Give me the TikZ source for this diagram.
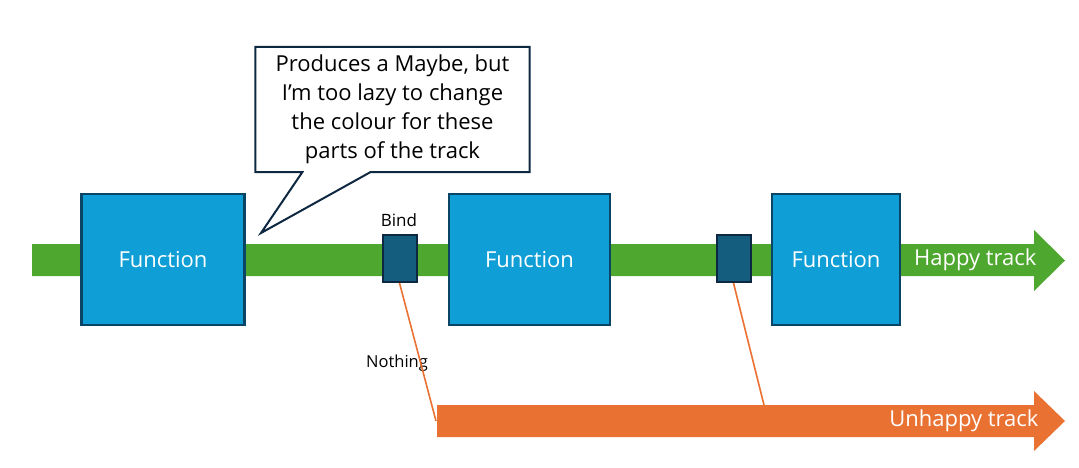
\documentclass[tikz,border=0pt]{standalone}
\usepackage{fontspec}
\setmainfont{Open Sans}
\usetikzlibrary{calc}

\definecolor{happy}{HTML}{4EA72E}
\definecolor{unhappy}{HTML}{E97132}
\definecolor{fnblue}{HTML}{109ED6}
\definecolor{fnedge}{HTML}{0B4566}
\definecolor{bindfill}{HTML}{155D7E}
\definecolor{navy}{HTML}{0E2841}

\begin{document}
\begin{tikzpicture}[x=1pt,y=-1pt]

        \useasboundingbox (0,0) rectangle (1079,467);

        % the two tracks
        \fill[happy] (32,244) -- (1034,244) -- (1034,230) -- (1065,260.5)
          -- (1034,291) -- (1034,276) -- (32,276) -- cycle;
        \fill[unhappy] (437,405) -- (1034,405) -- (1034,391) -- (1065,421)
          -- (1034,451) -- (1034,437) -- (437,437) -- cycle;

        \begin{scope}[every node/.style={rectangle, draw=fnedge, line width=2.2pt,
            fill=fnblue, text=white, font=\fontsize{22}{26}\selectfont,
            minimum height=131}]
          \node[minimum width=163] (f1) at (163,259.5) {Function};
          \node[minimum width=161] (f2) at (529.5,259.5) {Function};
          \node[minimum width=128] (f3) at (836,259.5) {Function};
        \end{scope}

        \begin{scope}[every node/.style={rectangle, draw=navy, line width=2pt,
            fill=bindfill, minimum width=34, minimum height=47}]
          \node (b1) at (399.5,258.5) {};
          \node (b2) at (733.5,258.5) {};
        \end{scope}

        \begin{scope}[every node/.style={font=\fontsize{17}{20}\selectfont}]
          \node (t1) at (399,220) {Bind};
          \node[font=\fontsize{16.5}{20}\selectfont] (t2) at (397,363) {Nothing};
        \end{scope}

        \begin{scope}[every node/.style={text=white, font=\fontsize{22}{26}\selectfont}]
          \node[anchor=east] (t3) at (1040,260) {Happy track};
          \node[anchor=east] (t4) at (1042,421) {Unhappy track};
        \end{scope}

        \coordinate (o1) at (436,421);
        \coordinate (o2) at (764,405);
        \begin{scope}[every edge/.style={draw=unhappy, line width=1.6pt}]
          \path (b1.south) edge (o1);
          \path (b2.south) edge (o2);
        \end{scope}

        % callout
        \node[minimum width=274, minimum height=125] (note) at (392.5,109.5) {};
        \coordinate (tip) at (261,233);
        \draw[navy, line width=2pt, fill=white, line join=miter]
          (note.north west) -- (note.north east) -- (note.south east)
          -- ($(note.south west)+(115,0)$) -- (tip)
          -- ($(note.south west)+(47,0)$) -- (note.south west) -- cycle;
        \node[align=center, font=\fontsize{22}{29}\selectfont] (txt) at (note.center)
          {Produces a Maybe, but\\I’m too lazy to change\\the colour for these\\parts of the track};

      \end{tikzpicture}
\end{document}
